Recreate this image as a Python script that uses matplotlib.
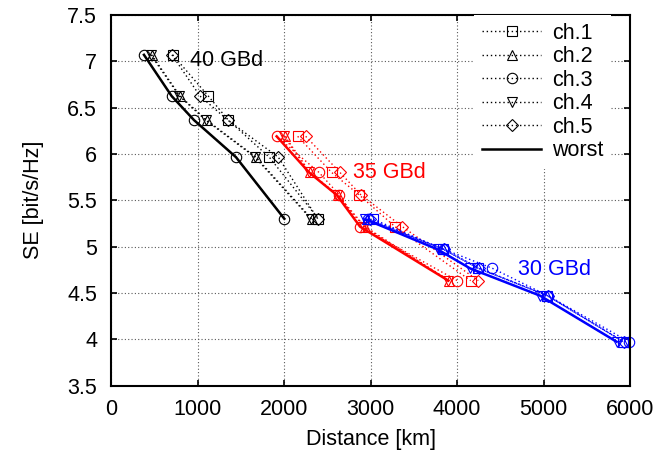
import matplotlib
matplotlib.use('Agg')
import matplotlib.pyplot as plt

plt.rcParams['font.family'] = ['Liberation Sans', 'DejaVu Sans']

# SE levels for each baud rate
se_40 = [7.07, 6.625, 6.365, 5.965, 5.30]
se_35 = [6.19, 5.80, 5.557, 5.215, 4.632]
se_30 = [5.295, 4.97, 4.765, 4.47, 3.972]

# distance [km] per channel
d40_ch1 = [713, 1125, 1356, 1830, 2397]
d40_ch2 = [470, 798, 1106, 1676, 2320]
d40_ch3 = [381, 701, 960, 1445, 2004]
d40_ch4 = [460, 790, 1095, 1665, 2310]
d40_ch5 = [705, 1029, 1350, 1934, 2390]
d40_worst = [381, 701, 960, 1445, 2004]

d35_ch1 = [2158, 2551, 2870, 3283, 4158]
d35_ch2 = [2012, 2301, 2620, 2936, 3911]
d35_ch3 = [1915, 2405, 2640, 2879, 4004]
d35_ch4 = [2000, 2290, 2610, 2925, 3900]
d35_ch5 = [2251, 2647, 2890, 3368, 4246]
d35_worst = [1915, 2290, 2610, 2879, 3900]

d30_ch1 = [3033, 3842, 4246, 5044, 5923]
d30_ch2 = [2956, 3842, 4246, 5044, 5923]
d30_ch3 = [2975, 3850, 4410, 5050, 5990]
d30_ch4 = [2940, 3775, 4150, 4960, 5846]
d30_ch5 = [2990, 3850, 4260, 5050, 5930]
d30_worst = [2940, 3775, 4150, 4960, 5846]

ch_labels = ['ch.1', 'ch.2', 'ch.3', 'ch.4', 'ch.5']
ch_markers = ['s', '^', 'o', 'v', 'D']
ch_msize = [7, 7.5, 7.5, 7.5, 6]

groups = [
    (se_40, [d40_ch1, d40_ch2, d40_ch3, d40_ch4, d40_ch5], d40_worst, 'black'),
    (se_35, [d35_ch1, d35_ch2, d35_ch3, d35_ch4, d35_ch5], d35_worst, '#ff0000'),
    (se_30, [d30_ch1, d30_ch2, d30_ch3, d30_ch4, d30_ch5], d30_worst, '#0000ff'),
]

FS = 15.5

fig = plt.figure(figsize=(6.61, 4.53), dpi=100)
ax = fig.add_axes([111 / 661, 1 - 385.5 / 453, 519 / 661, 370.5 / 453])

dotted = (0, (1, 2))
for se, chans, worst, col in groups:
    for d, m, ms in zip(chans, ch_markers, ch_msize):
        ax.plot(d, se, linestyle=dotted, lw=1.0, color=col, marker=m,
                markersize=ms, markerfacecolor='none', markeredgecolor=col,
                markeredgewidth=0.8, clip_on=False)
    ax.plot(worst, se, '-', lw=1.8, color=col, zorder=3)

# legend handles (black)
handles = []
for lab, m, ms in zip(ch_labels, ch_markers, ch_msize):
    h, = ax.plot([], [], linestyle=dotted, lw=1.0, color='black', marker=m,
                 markersize=ms, markerfacecolor='none', markeredgewidth=0.8,
                 label=lab)
    handles.append(h)
h, = ax.plot([], [], '-', lw=1.8, color='black', label='worst')
handles.append(h)

leg = ax.legend(handles=handles, loc='upper right', bbox_to_anchor=(0.963, 1.0),
                borderaxespad=0, fontsize=FS, handlelength=2.75, handletextpad=0.5,
                labelspacing=0.12, frameon=True, fancybox=False, framealpha=1,
                borderpad=0.35)
leg.get_frame().set_edgecolor('none')
leg.get_frame().set_facecolor('white')
leg.set_zorder(5)

ax.text(913, 7.01, '40 GBd', color='black', fontsize=FS, va='center', ha='left')
ax.text(2798, 5.80, '35 GBd', color='#ff0000', fontsize=FS, va='center', ha='left')
ax.text(4705, 4.75, '30 GBd', color='#0000ff', fontsize=FS, va='center', ha='left')

ax.set_xlim(0, 6000)
ax.set_ylim(3.5, 7.5)
ax.set_xticks([0, 1000, 2000, 3000, 4000, 5000, 6000])
ax.set_xticklabels(['0', '1000', '2000', '3000', '4000', '5000', '6000'])
ax.set_yticks([3.5, 4, 4.5, 5, 5.5, 6, 6.5, 7, 7.5])
ax.set_yticklabels(['3.5', '4', '4.5', '5', '5.5', '6', '6.5', '7', '7.5'])
ax.tick_params(direction='in', length=4, width=1.2, labelsize=FS, pad=10,
               top=True, right=True)
ax.grid(True, linestyle=dotted, lw=0.8, color='0.35')
for sp in ax.spines.values():
    sp.set_linewidth(1.5)

ax.set_xlabel('Distance [km]', fontsize=FS, labelpad=6)
ax.set_ylabel('SE [bit/s/Hz]', fontsize=FS, labelpad=17)

fig.savefig('out.png', dpi=100)
